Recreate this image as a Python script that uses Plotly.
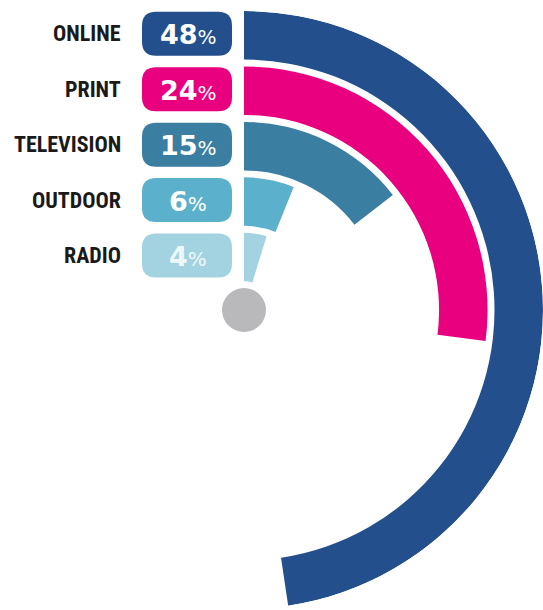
import plotly.graph_objects as go

# ---- data ----
channels = ["ONLINE", "PRINT", "TELEVISION", "OUTDOOR", "RADIO"]
shares = [48, 24, 15, 6, 4]                      # percent labels
arc_sweep_deg = [171.5, 97.3, 52.3, 22.0, 17.0]   # drawn arc length of each ring (degrees)
colors = ["#23508d", "#e8007f", "#3a7fa1", "#5bb0cc", "#a3d3e1"]
badge_text_colors = ["#ffffff", "#ffffff", "#ffffff", "#ffffff", "#eef8fb"]

# ---- layout geometry ----
W, H = 543, 610
CX, CY = 244, 310          # pixel position of the ring centre
R_PX = 299                 # pixel radius of the polar area
R_MAX = 302                # radial units covered by the polar area
THICK, PITCH, INNER0 = 49, 56, 29
scale = R_PX / R_MAX

n = len(channels)
inner = [INNER0 + (n - 1 - i) * PITCH for i in range(n)]

fig = go.Figure()

fig.add_trace(go.Barpolar(
    r=[THICK] * n,
    base=inner,
    theta=[s / 2 for s in arc_sweep_deg],
    width=arc_sweep_deg,
    marker=dict(color=colors, line=dict(width=0)),
    hoverinfo="skip",
    showlegend=False,
))

fig.add_trace(go.Scatterpolar(
    r=[0], theta=[0], mode="markers",
    marker=dict(size=44, color="#b9b9bc", line=dict(width=0)),
    cliponaxis=False, hoverinfo="skip", showlegend=False,
))

# invisible pixel-space axes for labels and badges
fig.add_trace(go.Scatter(x=[0, W], y=[0, H], mode="markers",
                         marker=dict(opacity=0), hoverinfo="skip", showlegend=False))


def rrect(x0, y0, x1, y1, r):
    return (f"M {x0+r},{y0} L {x1-r},{y0} Q {x1},{y0} {x1},{y0+r} "
            f"L {x1},{y1-r} Q {x1},{y1} {x1-r},{y1} L {x0+r},{y1} "
            f"Q {x0},{y1} {x0},{y1-r} L {x0},{y0+r} Q {x0},{y0} {x0+r},{y0} Z")


shapes, annotations = [], []
BX0, BX1, BH = 142, 232, 44
for i in range(n):
    band_mid = CY - (inner[i] + THICK / 2) * scale
    yc = band_mid - 1.5
    shapes.append(dict(type="path", xref="x", yref="y",
                       path=rrect(BX0, yc - BH / 2, BX1, yc + BH / 2, 14),
                       fillcolor=colors[i], line=dict(width=0), layer="below"))
    annotations.append(dict(
        x=(BX0 + BX1) / 2 + 1, y=yc + 1, xref="x", yref="y",
        text=f"<b>{shares[i]}</b><span style='font-size:20px;font-weight:normal'>%</span>",
        showarrow=False, xanchor="center", yanchor="middle",
        font=dict(family="DejaVu Sans, Verdana, sans-serif", size=27,
                  color=badge_text_colors[i])))
    annotations.append(dict(
        x=123, y=yc, xref="x", yref="y",
        text=f"<b>{channels[i]}</b>",
        showarrow=False, xanchor="right", yanchor="middle",
        font=dict(family="Roboto Condensed, Liberation Sans Narrow, DejaVu Sans Condensed, sans-serif",
                  size=22, color="#1a1a1a")))

fig.update_layout(
    width=W, height=H,
    margin=dict(l=0, r=0, t=0, b=0),
    paper_bgcolor="white", plot_bgcolor="rgba(0,0,0,0)",
    showlegend=False,
    xaxis=dict(range=[0, W], domain=[0, 1], visible=False, fixedrange=True),
    yaxis=dict(range=[H, 0], domain=[0, 1], visible=False, fixedrange=True),
    polar=dict(
        domain=dict(x=[CX / W, 1], y=[(H - CY - R_PX) / H, (H - CY + R_PX) / H]),
        sector=[-90, 90],
        bgcolor="rgba(0,0,0,0)",
        radialaxis=dict(range=[0, R_MAX], visible=False),
        angularaxis=dict(direction="clockwise", rotation=90, visible=False),
    ),
    shapes=shapes,
    annotations=annotations,
)

fig.write_html("out.html")
